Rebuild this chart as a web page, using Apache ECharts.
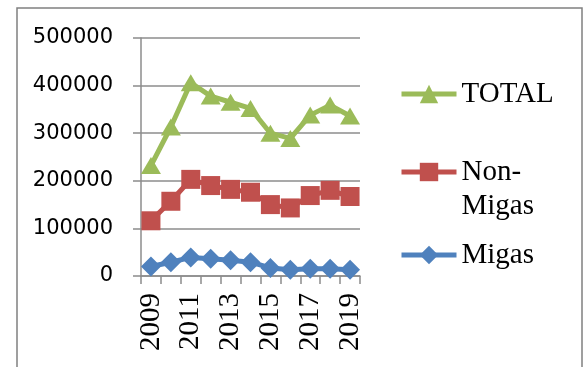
<!DOCTYPE html>
<html>
<head>
<meta charset="utf-8">
<script src="https://cdn.jsdelivr.net/npm/echarts@6/dist/echarts.min.js"></script>
<style>
  html, body { margin: 0; padding: 0; background: #fff; }
  #chart { width: 587px; height: 367px; }
</style>
</head>
<body>
<div id="chart"></div>
<script>
const years = ['2009', '2010', '2011', '2012', '2013', '2014', '2015', '2016', '2017', '2018', '2019']
const total = [232000, 313000, 406000, 378000, 365000, 352000, 300000, 289000, 338000, 359000, 336000]
const nonMigas = [116000, 157000, 203000, 190000, 182000, 176000, 150000, 143000, 169000, 180000, 167000]
const migas = [20000, 29000, 39000, 36000, 33000, 29000, 17000, 13000, 15000, 15000, 13000]
const yTicks = [0, 100000, 200000, 300000, 400000, 500000]

const gridColor = '#8c8c8c'
const serif = 'Liberation Serif'

const chart = echarts.init(document.getElementById('chart'), null, { renderer: 'canvas' })

function legendBox(name, top, formatter) {
  return {
    data: [name],
    orient: 'vertical',
    left: 399,
    top: top,
    padding: 0,
    itemWidth: 55,
    itemHeight: 23,
    selectedMode: false,
    formatter: formatter || '{name}',
    lineStyle: { width: 5 },
    textStyle: {
      fontFamily: serif,
      fontSize: 29,
      color: '#000',
      lineHeight: 34
    }
  }
}

chart.setOption({
  animation: false,
  graphic: [{
    type: 'rect',
    shape: { x: 17, y: 8, width: 565, height: 420 },
    style: { fill: 'none', stroke: '#808080', lineWidth: 1.5 }
  }],
  grid: {
    left: 141,
    right: 227,
    top: 38,
    bottom: 91
  },
  legend: [
    legendBox('TOTAL', 77),
    // blank first line so the icon sits beside "Non-"
    legendBox('Non-Migas', 121, () => '\nNon-\nMigas'),
    legendBox('Migas', 238)
  ],
  xAxis: {
    type: 'category',
    data: years,
    boundaryGap: true,
    axisLine: { lineStyle: { color: gridColor, width: 1.5 } },
    axisTick: { show: true, interval: 0, length: 8, lineStyle: { color: gridColor, width: 1.5 } },
    axisLabel: {
      interval: 1,
      rotate: 90,
      margin: 17,
      fontFamily: serif,
      fontSize: 29,
      color: '#000'
    }
  },
  yAxis: {
    type: 'value',
    min: yTicks[0],
    max: yTicks[yTicks.length - 1],
    interval: 100000,
    axisLine: { show: true, lineStyle: { color: gridColor, width: 1.5 } },
    axisTick: { show: true, length: 8, lineStyle: { color: gridColor, width: 1.5 } },
    splitLine: { lineStyle: { color: gridColor, width: 1.5 } },
    axisLabel: {
      margin: 28,
      fontFamily: 'DejaVu Sans',
      fontSize: 21,
      color: '#000',
      formatter: v => String(v)
    }
  },
  series: [{
    name: 'Migas',
    type: 'line',
    data: migas,
    symbol: 'diamond',
    symbolSize: 20,
    showAllSymbol: true,
    color: '#4F81BD',
    lineStyle: { color: '#4F81BD', width: 5 },
    itemStyle: { color: '#4F81BD' }
  }, {
    name: 'Non-Migas',
    type: 'line',
    data: nonMigas,
    symbol: 'rect',
    symbolSize: 19,
    showAllSymbol: true,
    color: '#C0504D',
    lineStyle: { color: '#C0504D', width: 5 },
    itemStyle: { color: '#C0504D' }
  }, {
    name: 'TOTAL',
    type: 'line',
    data: total,
    symbol: 'triangle',
    symbolSize: [20, 17],
    showAllSymbol: true,
    color: '#9BBB59',
    lineStyle: { color: '#9BBB59', width: 5 },
    itemStyle: { color: '#9BBB59' }
  }]
})
</script>
</body>
</html>
